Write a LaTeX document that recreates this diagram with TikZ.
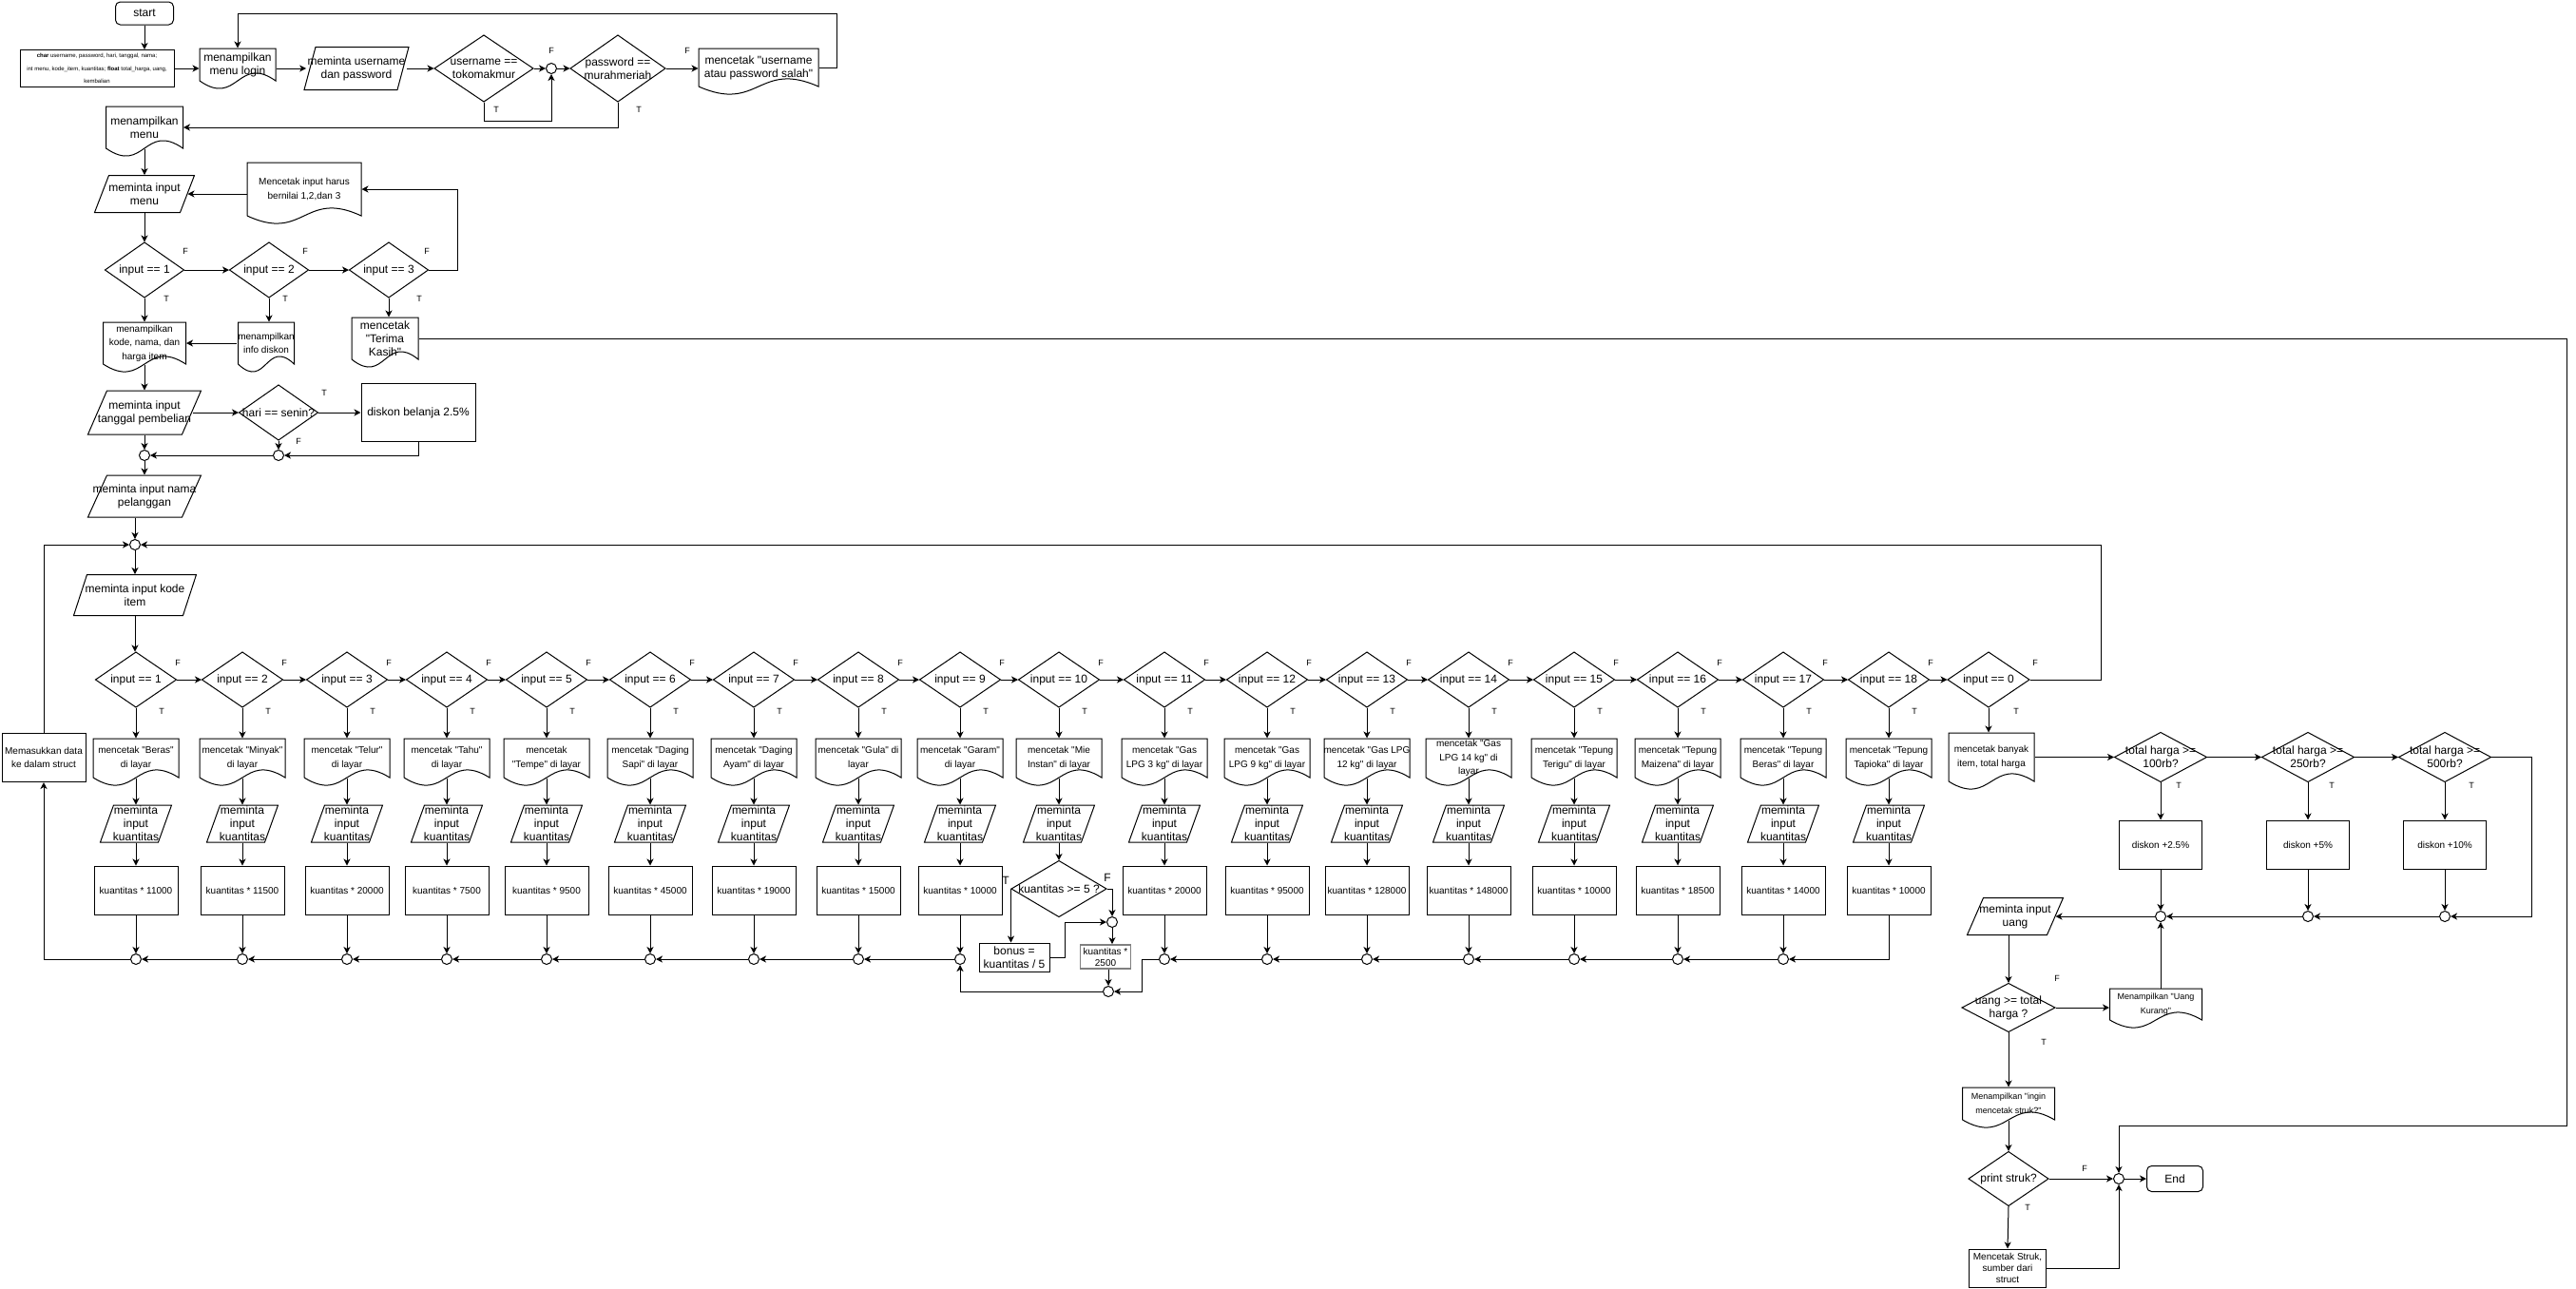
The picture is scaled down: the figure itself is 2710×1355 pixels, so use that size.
\documentclass[tikz,border=0pt]{standalone}
\usepackage{fontspec}
\setmainfont{Liberation Sans}
\newfontfamily\lsans{Liberation Sans}
\usepackage{tikz}
\usetikzlibrary{positioning, arrows.meta, calc}

\tikzset{
  every node/.style={align=center, inner sep=1pt, font=\lsans\fontsize{12}{14}\selectfont},
  smalltxt/.style={font=\lsans\fontsize{10}{14.5}\selectfont},
  tinytxt/.style={font=\lsans\fontsize{9}{15}\selectfont},
  lab/.style={font=\lsans\fontsize{9}{10}\selectfont},
  arr/.style={-{Stealth[length=7pt, width=7pt, inset=2pt]}},
  proc/.style 2 args={draw, minimum width=#1pt, minimum height=#2pt},
  term/.style 2 args={draw, rounded corners=5pt, minimum width=#1pt, minimum height=#2pt},
  junc/.style={draw, circle, minimum size=11pt, inner sep=0pt},
  dec/.style 2 args={minimum width=#1pt, minimum height=#2pt,
    append after command={\pgfextra{\draw
      ($(\tikzlastnode.center)+(0,-#2/2)$) -- ($(\tikzlastnode.center)+(#1/2,0)$)
      -- ($(\tikzlastnode.center)+(0,#2/2)$) -- ($(\tikzlastnode.center)+(-#1/2,0)$) -- cycle;}}},
  iobox/.style n args={3}{minimum width=#1pt-#3pt, minimum height=#2pt,
    append after command={\pgfextra{\draw
      ($(\tikzlastnode.center)+(-#1/2+#3,-#2/2)$) -- ($(\tikzlastnode.center)+(#1/2,-#2/2)$)
      -- ($(\tikzlastnode.center)+(#1/2-#3,#2/2)$) -- ($(\tikzlastnode.center)+(-#1/2,#2/2)$) -- cycle;}}},
  docbox/.style 2 args={minimum width=#1pt, minimum height=#2pt,
    append after command={\pgfextra{\draw
      ($(\tikzlastnode.center)+(-#1/2,#2/2)$) -- ($(\tikzlastnode.center)+(-#1/2,-#2/2)$)
      -- ($(\tikzlastnode.center)+(#1/2,-#2/2)$) -- ($(\tikzlastnode.center)+(#1/2,#2/2)$)
      .. controls ($(\tikzlastnode.center)+(0,#2/2-28)$) and ($(\tikzlastnode.center)+(0,#2/2+28)$)
      .. ($(\tikzlastnode.center)+(-#1/2,#2/2)$);}}}
}

\begin{document}
\begin{tikzpicture}[x=1pt, y=-1pt, line width=1pt]
  \useasboundingbox (0,0) rectangle (2710,1355);

  % login
  \node[term={61}{24}] (start) at (152,14) {start};
  \node[proc={162}{39}, font=\lsans\fontsize{6}{13.5}\selectfont] (decl) at (102,72)
    {\textbf{char} username, password, hari, tanggal, nama;\\int menu, kode\_item, kuantitas; \textbf{float} total\_harga, uang,\\kembalian};
  \node[docbox={80}{34}] (mlogin) at (250,68) {menampilkan\\menu login};
  \node[iobox={110}{45}{12}] (minuser) at (375,72) {meminta username\\dan password};
  \node[dec={104}{70}] (duser) at (509,72) {username ==\\tokomakmur};
  \node[junc] (cuser) at (580,72) {};
  \node[dec={100}{70}] (dpass) at (650,72) {password ==\\murahmeriah};
  \node[docbox={126}{40}] (merr) at (798,71) {mencetak "username\\atau password salah"};
  \node[lab] (fuser) at (580,53) {F};
  \node[lab] (tuser) at (522,115) {T};
  \node[lab] (fpass) at (723,53) {F};
  \node[lab] (tpass) at (672,115) {T};
  \coordinate (ltop) at (880,14);

  % menu
  \node[docbox={81}{44}] (mmenu) at (152,134) {menampilkan\\menu};
  \node[iobox={105}{39}{15}] (minmenu) at (152,204) {meminta input\\menu};
  \node[docbox={120}{56}, smalltxt] (mharus) at (320,199) {Mencetak input harus\\bernilai 1,2,dan 3};
  \node[dec={83}{58}] (d1) at (152,284) {input == 1};
  \node[dec={83}{58}] (d2) at (283,284) {input == 2};
  \node[dec={83}{58}] (d3) at (409,284) {input == 3};
  \node[lab] (fd1) at (195,264) {F};
  \node[lab] (fd2) at (321,264) {F};
  \node[lab] (fd3) at (449,264) {F};
  \node[lab] (td1) at (175,314) {T};
  \node[lab] (td2) at (300,314) {T};
  \node[lab] (td3) at (441,314) {T};
  \node[docbox={87}{44}, smalltxt] (mkode) at (152,361) {menampilkan\\kode, nama, dan\\harga item};
  \node[docbox={59}{44}, smalltxt] (minfo) at (280,361) {menampilkan\\info diskon};
  \node[docbox={70}{44}] (mterima) at (405,356) {mencetak\\"Terima\\Kasih"};
  \node[iobox={119}{46}{20}] (mtanggal) at (152,434) {meminta input\\tanggal pembelian};
  \node[dec={83}{58}] (dsenin) at (293,434) {hari == senin?};
  \node[proc={120}{61}] (mdiskon) at (440,434) {diskon belanja 2.5\%};
  \node[lab] (tsenin) at (341,413) {T};
  \node[lab] (fsenin) at (314,464) {F};
  \node[junc] (c1) at (152,479) {};
  \node[junc] (c2) at (293,479) {};
  \node[iobox={119}{44}{20}] (mnama) at (152,522) {meminta input nama\\pelanggan};
  \node[junc] (cloop) at (142,573) {};
  \node[iobox={129}{43}{14}] (mkodeitem) at (142,626) {meminta input kode\\item};
  \node[proc={88}{51}, smalltxt] (mstruct) at (46,797) {Memasukkan data\\ke dalam struct};

  % items
  \foreach \k/\x/\txt in {1/143/{mencetak "Beras"\\di layar}, 2/255/{mencetak "Minyak"\\di layar},
      3/365/{mencetak "Telur"\\di layar}, 4/470/{mencetak "Tahu"\\di layar},
      5/575/{mencetak\\"Tempe" di layar}, 6/684/{mencetak "Daging\\Sapi" di layar},
      7/793/{mencetak "Daging\\Ayam" di layar}, 8/903/{mencetak "Gula" di\\layar},
      9/1010/{mencetak "Garam"\\di layar}, 10/1114/{mencetak "Mie\\Instan" di layar},
      11/1225/{mencetak "Gas\\LPG 3 kg" di layar}, 12/1333/{mencetak "Gas\\LPG 9 kg" di layar},
      13/1438/{mencetak "Gas LPG\\12 kg" di layar}, 14/1545/{mencetak "Gas\\LPG 14 kg" di\\layar},
      15/1656/{mencetak "Tepung\\Terigu" di layar}, 16/1765/{mencetak "Tepung\\Maizena" di layar},
      17/1876/{mencetak "Tepung\\Beras" di layar}, 18/1987/{mencetak "Tepung\\Tapioka" di layar}}{
    \node[dec={85}{58}] (i\k) at (\x,715) {input == \k};
    \node[lab] (f\k) at (\x+44,697) {F};
    \node[lab] (t\k) at (\x+27,748) {T};
    \node[docbox={90}{41}, smalltxt] (p\k) at (\x,797.5) {\txt};
    \node[iobox={75}{39}{14}] (q\k) at (\x,866.5) {meminta\\input\\kuantitas};
  }
  \foreach \k/\x/\n in {1/143/11000, 2/255/11500, 3/365/20000, 4/470/7500, 5/575/9500,
      6/684/45000, 7/793/19000, 8/903/15000, 9/1010/10000, 11/1225/20000, 12/1333/95000,
      13/1438/128000, 14/1545/148000, 15/1656/10000, 16/1765/18500, 17/1876/14000, 18/1987/10000}
    \node[proc={88}{51}, smalltxt] (b\k) at (\x,936.5) {kuantitas * \n};
  \foreach \k/\x in {1/143, 2/255, 3/365, 4/470, 5/575, 6/684, 7/793, 8/903, 9/1010,
      11/1225, 12/1333, 13/1438, 14/1545, 15/1656, 16/1765, 17/1876}
    \node[junc] (j\k) at (\x,1009) {};

  % mie instan bonus
  \node[dec={100}{59}] (dk5) at (1114,935) {kuantitas >= 5 ?};
  \node (tk5) at (1058,926) {T};
  \node (fk5) at (1165,923) {F};
  \node[proc={74}{30}] (bonus) at (1067,1007) {bonus =\\kuantitas / 5};
  \node[junc] (c10a) at (1170,970) {};
  \node[proc={53}{25}, font=\lsans\fontsize{10}{12}\selectfont, draw=gray, line width=1.8pt] (b10) at (1163,1006.5) {kuantitas *\\2500};
  \node[junc] (c10b) at (1166,1043) {};

  % totals
  \node[dec={86}{58}] (i0) at (2092,715) {input == 0};
  \node[lab] (f0) at (2141,697) {F};
  \node[lab] (t0) at (2121,748) {T};
  \node[docbox={90}{51}, smalltxt] (mbanyak) at (2095,796.5) {mencetak banyak\\item, total harga};
  \node[dec={97}{52}] (dt1) at (2273,796.5) {total harga >=\\100rb?};
  \node[dec={97}{52}] (dt2) at (2428,796.5) {total harga >=\\250rb?};
  \node[dec={97}{52}] (dt3) at (2572,796.5) {total harga >=\\500rb?};
  \node[lab] (tt1) at (2292,826) {T};
  \node[lab] (tt2) at (2453,826) {T};
  \node[lab] (tt3) at (2600,826) {T};
  \node[proc={87}{51}, smalltxt] (dk1) at (2273,888.5) {diskon +2.5\%};
  \node[proc={87}{51}, smalltxt] (dk2) at (2428,888.5) {diskon +5\%};
  \node[proc={87}{51}, smalltxt] (dk3) at (2572,888.5) {diskon +10\%};
  \node[junc] (ck1) at (2273,964) {};
  \node[junc] (ck2) at (2428,964) {};
  \node[junc] (ck3) at (2572,964) {};
  \node[iobox={101}{39}{17}] (muang) at (2120,964) {meminta input\\uang};
  \node[dec={98}{51}] (duang) at (2113,1060) {uang >= total\\harga ?};
  \node[lab] (fuang) at (2164,1029) {F};
  \node[lab] (tuang) at (2150,1096) {T};
  \node[docbox={97}{33}, tinytxt] (mkurang) at (2268,1056.5) {Menampilkan "Uang\\Kurang"};
  \node[docbox={97}{34}, tinytxt] (mingin) at (2113,1161) {Menampilkan "ingin\\mencetak struk?"};
  \node[dec={84}{57}] (dprint) at (2113,1240) {print struk?};
  \node[lab] (fprint) at (2193,1229) {F};
  \node[lab] (tprint) at (2133,1270) {T};
  \node[junc] (cend) at (2229,1240) {};
  \node[term={59}{27}] (mend) at (2288,1240) {End};
  \node[proc={81}{40}, font=\lsans\fontsize{10}{12}\selectfont] (mstruk) at (2112,1334) {Mencetak Struk,\\sumber dari\\struct};
  \coordinate (rtop) at (2700,1184);

  % connectors
  \draw[arr] (start) -- (start |- decl.north);
  \draw[arr] (decl.east) -- (decl.east -| mlogin.west);
  \draw[arr] (mlogin.east |- minuser.west) -- (minuser.west);
  \draw[arr] (minuser.east) -- (duser.west);
  \draw[arr] (duser.east) -- (cuser.west);
  \draw[arr] (duser.south) -- ++(0,20) -| (cuser.south);
  \draw[arr] (cuser.east) -- (dpass.west);
  \draw[arr] (dpass.east) -- (dpass.east -| merr.west);
  \draw[arr] (merr.east) -| (ltop) -| (mlogin.north);
  \draw[arr] (dpass.south) |- (mmenu.east);
  \draw[arr] (mmenu.south) -- (minmenu.north);
  \draw[arr] (minmenu.south) -- (d1.north);
  \draw[arr] (mharus.west |- minmenu.east) -- (minmenu.east);
  \draw[arr] (d1.east) -- (d2.west);
  \draw[arr] (d2.east) -- (d3.west);
  \draw[arr] (d3.east) -- ++(30,0) |- (mharus.east);
  \draw[arr] (d1.south) -- (mkode.north);
  \draw[arr] (d2.south) -- (d2.south |- minfo.north);
  \draw[arr] (d3.south) -- (d3.south |- mterima.north);
  \draw[arr] (minfo.west) -- (mkode.east);
  \draw[arr] (mkode.south) -- (mtanggal.north);
  \draw[arr] (mtanggal.east) -- (dsenin.west);
  \draw[arr] (dsenin.east) -- (mdiskon.west);
  \draw[arr] (dsenin.south) -- (c2.north);
  \draw[arr] (mdiskon.south) |- (c2.east);
  \draw[arr] (c2.west) -- (c1.east);
  \draw[arr] (mtanggal.south) -- (c1.north);
  \draw[arr] (c1.south) -- (mnama.north);
  \draw[arr] (cloop |- mnama.south) -- (cloop.north);
  \draw[arr] (cloop.south) -- (mkodeitem.north);
  \draw[arr] (mkodeitem.south) -- (mkodeitem.south |- i1.north);
  \draw[arr] (mstruct.north) |- (cloop.west);
  \draw[arr] (j1.west) -| (mstruct.south);

  \foreach \k [remember=\k as \p (initially 1)] in {2,...,18}
    \draw[arr] (i\p.east) -- (i\k.west);
  \draw[arr] (i18.east) -- (i0.west);
  \foreach \k in {1,...,18}{
    \draw[arr] (i\k.south) -- (p\k.north);
    \draw[arr] (p\k.south) -- (q\k.north);
  }
  \foreach \k in {1,2,3,4,5,6,7,8,9,11,12,13,14,15,16,17,18}
    \draw[arr] (q\k.south) -- (b\k.north);
  \foreach \k in {1,2,3,4,5,6,7,8,9,11,12,13,14,15,16,17}
    \draw[arr] (b\k.south) -- (j\k.north);
  \foreach \k/\p in {2/1,3/2,4/3,5/4,6/5,7/6,8/7,9/8,12/11,13/12,14/13,15/14,16/15,17/16}
    \draw[arr] (j\k.west) -- (j\p.east);
  \draw[arr] (b18.south) |- (j17.east);
  \draw[arr] (j11.west) -- ++(-18,0) |- (c10b.east);
  \draw[arr] (c10b.west) -| (j9.south);
  \draw[arr] (q10.south) -- (dk5.north);
  \draw[arr] (dk5.west) -- (dk5.west |- bonus.north);
  \draw[arr] (dk5.east) -| (c10a.north);
  \draw[arr] (bonus.east) -- ++(16,0) |- (c10a.west);
  \draw[arr] (c10a.south) -- (c10a.south |- b10.north);
  \draw[arr] (b10.south -| c10b) -- (c10b.north);

  \draw[arr] (i0.east) -- ++(75,0) |- (cloop.east);
  \draw[arr] (i0.south) -- (i0.south |- mbanyak.north);
  \draw[arr] (mbanyak.east) -- (dt1.west);
  \draw[arr] (dt1.east) -- (dt2.west);
  \draw[arr] (dt2.east) -- (dt3.west);
  \foreach \k in {1,2,3}{
    \draw[arr] (dt\k.south) -- (dk\k.north);
    \draw[arr] (dk\k.south) -- (ck\k.north);
  }
  \draw[arr] (dt3.east) -- ++(42,0) |- (ck3.east);
  \draw[arr] (ck3.west) -- (ck2.east);
  \draw[arr] (ck2.west) -- (ck1.east);
  \draw[arr] (ck1.west) -- (muang.east);
  \draw[arr] (duang |- muang.south) -- (duang.north);
  \draw[arr] (duang.east) -- (duang.east -| mkurang.west);
  \draw[arr] (ck1 |- mkurang.north) -- (ck1.south);
  \draw[arr] (duang.south) -- (mingin.north);
  \draw[arr] (mingin.south) -- (dprint.north);
  \draw[arr] (dprint.east) -- (cend.west);
  \draw[arr] (cend.east) -- (mend.west);
  \draw[arr] (dprint.south) -- (mstruk.north);
  \draw[arr] (mstruk.east) -| (cend.south);
  \draw[arr] (mterima.east) -| (rtop) -| (cend.north);
\end{tikzpicture}
\end{document}
